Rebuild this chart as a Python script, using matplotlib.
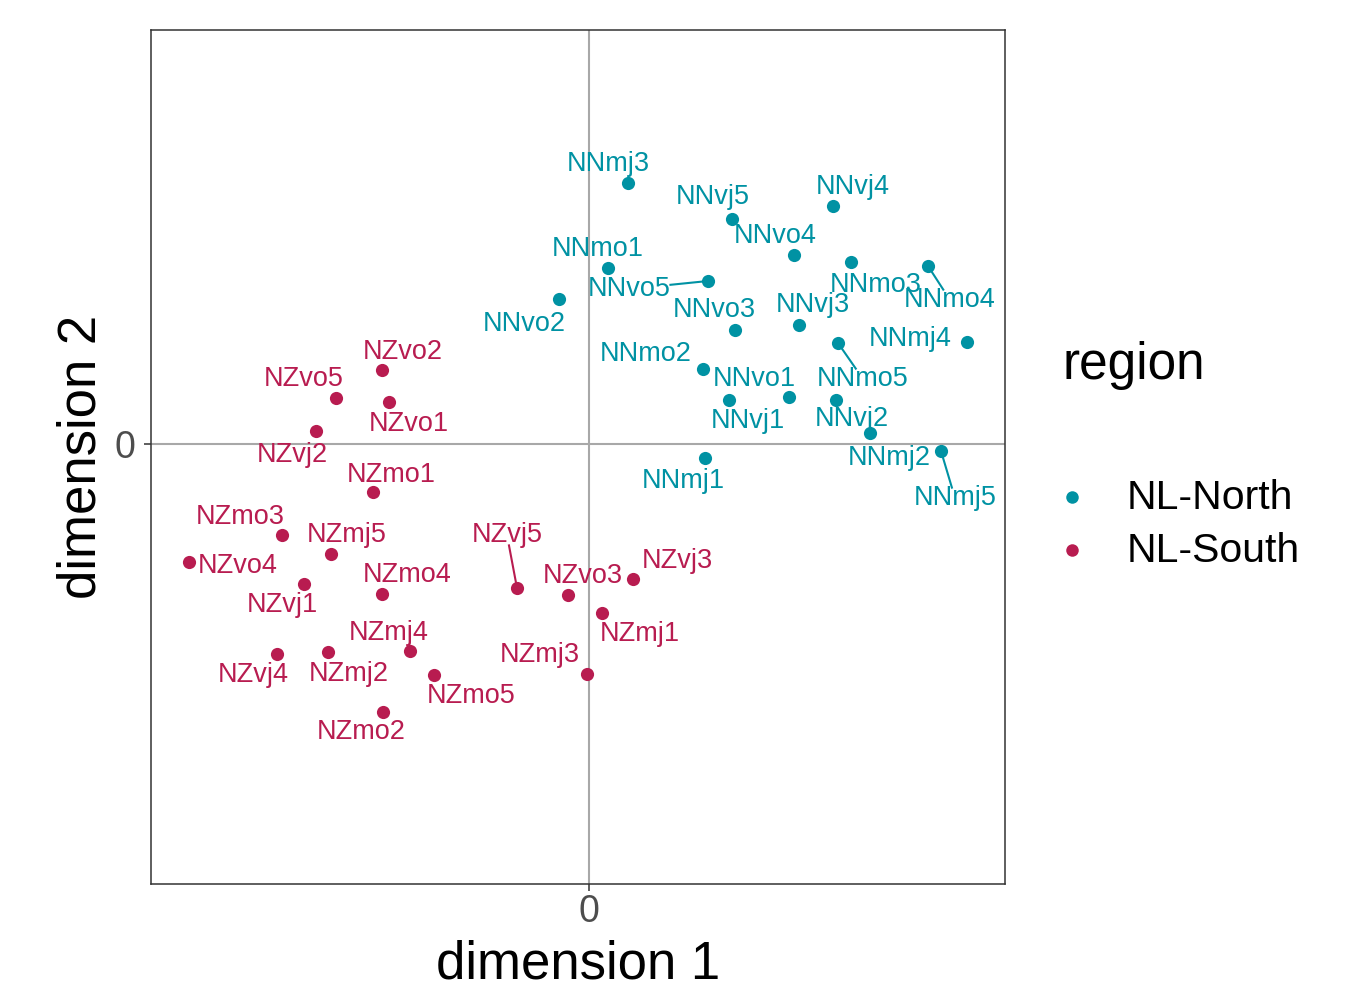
# MDS plot of dialect samples, NL-North vs NL-South

import numpy as np
import matplotlib.pyplot as plt

plt.rcParams['font.family'] = ['Liberation Sans', 'DejaVu Sans']

# ---------------------------------------------------------------- data
north_names = ['NNmj3', 'NNvj5', 'NNvj4', 'NNvo4', 'NNmo1', 'NNvo5', 'NNvo2',
               'NNmo3', 'NNmo4', 'NNvo3', 'NNvj3', 'NNmj4', 'NNmo2', 'NNmo5',
               'NNvo1', 'NNvj1', 'NNvj2', 'NNmj2', 'NNmj5', 'NNmj1']
north_x = [0.39, 1.43, 2.44, 2.05, 0.19, 1.19, -0.30, 2.62, 3.39, 1.46,
           2.10, 3.78, 1.14, 2.49, 2.00, 1.40, 2.47, 2.81, 3.52, 1.16]
north_y = [2.61, 2.25, 2.38, 1.89, 1.76, 1.63, 1.45, 1.82, 1.78, 1.14,
           1.19, 1.02, 0.75, 1.01, 0.47, 0.44, 0.44, 0.11, -0.07, -0.14]

south_names = ['NZvo2', 'NZvo5', 'NZvo1', 'NZvj2', 'NZmo1', 'NZmo3', 'NZmj5',
               'NZvo4', 'NZvj1', 'NZmo4', 'NZmj4', 'NZvj4', 'NZmj2', 'NZmo5',
               'NZmo2', 'NZvj5', 'NZvo3', 'NZvj3', 'NZmj1', 'NZmj3']
south_x = [-2.07, -2.53, -2.00, -2.73, -2.16, -3.07, -2.58, -4.00, -2.85, -2.07,
           -1.79, -3.12, -2.61, -1.55, -2.06, -0.72, -0.21, 0.44, 0.13, -0.02]
south_y = [0.74, 0.46, 0.42, 0.13, -0.48, -0.91, -1.10, -1.18, -1.40, -1.50,
           -2.07, -2.10, -2.08, -2.31, -2.68, -1.44, -1.51, -1.35, -1.69, -2.30]

# repelled label positions (as placed by ggrepel in the original)
north_lx = [0.19, 1.24, 2.64, 1.86, 0.09, 0.40, -0.65, 2.87, 3.61, 1.25,
            2.24, 3.21, 0.57, 2.74, 1.65, 1.59, 2.63, 3.00, 3.66, 0.94]
north_ly = [2.80, 2.47, 2.57, 2.08, 1.95, 1.55, 1.20, 1.59, 1.44, 1.34,
            1.39, 1.05, 0.90, 0.65, 0.65, 0.23, 0.25, -0.14, -0.54, -0.37]
south_lx = [-1.86, -2.85, -1.80, -2.97, -1.98, -3.49, -2.42, -3.51, -3.07, -1.82,
            -2.00, -3.36, -2.40, -1.18, -2.28, -0.82, -0.06, 0.88, 0.51, -0.49]
south_ly = [0.92, 0.65, 0.20, -0.11, -0.31, -0.73, -0.91, -1.22, -1.61, -1.31,
            -1.89, -2.31, -2.30, -2.52, -2.88, -0.91, -1.32, -1.17, -1.90, -2.11]

with_segment = ['NNvo5', 'NNmo4', 'NNmo5', 'NNmj5', 'NZvj5']

regions = ['NL-North', 'NL-South']
colors = ['#0092A3', '#B81C50']

# ---------------------------------------------------------------- plot
fig = plt.figure(figsize=(13.54, 9.88), dpi=100)
ax = fig.add_axes([151 / 1354, 104 / 988, 854 / 1354, 854 / 988])

ax.axhline(0, color='#A8A8A8', lw=1.5, zorder=0)
ax.axvline(0, color='#A8A8A8', lw=1.5, zorder=0)

groups = [(north_names, north_x, north_y, north_lx, north_ly, colors[0]),
          (south_names, south_x, south_y, south_lx, south_ly, colors[1])]

texts = []
for names, xs, ys, lxs, lys, col in groups:
    ax.scatter(xs, ys, s=90, color=col, linewidths=0, zorder=3)
    for n, x, y, lx, ly in zip(names, xs, ys, lxs, lys):
        t = ax.text(lx, ly, n, color=col, fontsize=19.5, ha='center', va='center', zorder=4)
        texts.append((n, x, y, t, col))

ax.set_xlim(-4.38, 4.16)
ax.set_ylim(-4.40, 4.14)
ax.set_xticks([0])
ax.set_yticks([0])
ax.tick_params(length=5, width=1.1, color='#333333', labelcolor='#4D4D4D',
               labelsize=27)
ax.tick_params(axis='x', pad=2)
ax.tick_params(axis='y', pad=6)
for sp in ax.spines.values():
    sp.set_color('#333333')
    sp.set_linewidth(1.1)

ax.set_xlabel('dimension 1', fontsize=38, labelpad=7)
ax.set_ylabel('dimension 2', fontsize=38, labelpad=6)

# segments from point to edge of label box
fig.canvas.draw()
inv = ax.transData.inverted()
for n, x, y, t, col in texts:
    if n not in with_segment:
        continue
    bb = t.get_window_extent().expanded(1.0, 0.8)
    px, py = ax.transData.transform((x, y))
    cx, cy = (bb.x0 + bb.x1) / 2, (bb.y0 + bb.y1) / 2
    dx, dy = cx - px, cy - py
    # fraction along the line where it hits the box
    fx = (bb.width / 2) / abs(dx) if dx != 0 else np.inf
    fy = (bb.height / 2) / abs(dy) if dy != 0 else np.inf
    f = 1 - min(fx, fy)
    ex, ey = inv.transform((px + f * dx, py + f * dy))
    ax.plot([x, ex], [y, ey], color=col, lw=1.5, zorder=2)

# legend
fig.text(1062 / 1354, 1 - 366 / 988, 'region', fontsize=37, va='center', ha='left')
for i, (lab, col) in enumerate(zip(regions, colors)):
    yy = 1 - (497 + 53 * i) / 988
    fig.add_artist(plt.Line2D([1072 / 1354], [yy], marker='o', markersize=9,
                              color=col, markeredgewidth=0, transform=fig.transFigure))
    fig.text(1127 / 1354, yy - 1 / 988, lab, fontsize=29.5, va='center', ha='left')

fig.savefig('out.png', dpi=100)
